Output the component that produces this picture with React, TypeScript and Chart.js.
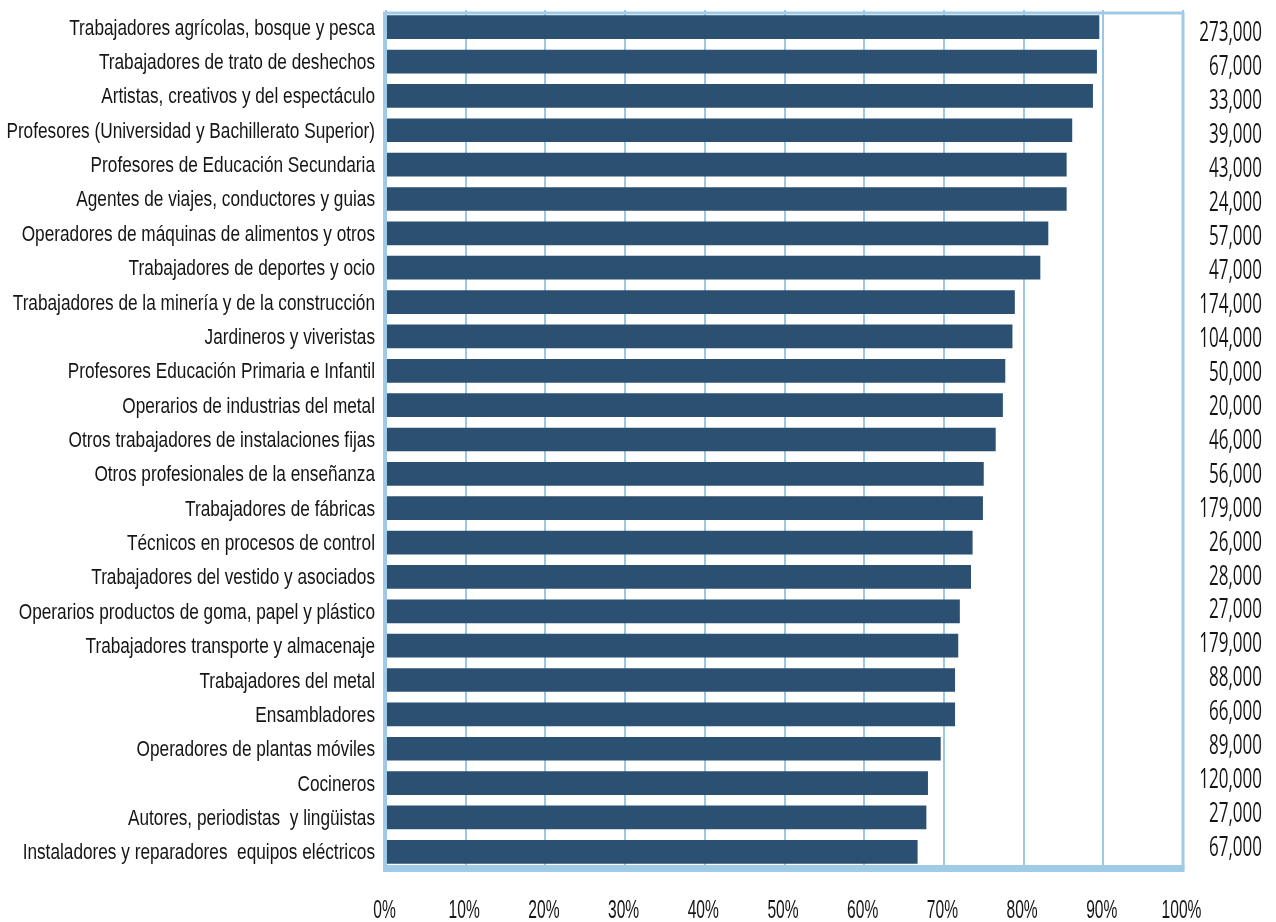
import React, { useEffect, useRef } from "react";
import { Chart, registerables } from "chart.js";

Chart.register(...registerables);

const categories: string[] = [
  "Trabajadores agrícolas, bosque y pesca",
  "Trabajadores de trato de deshechos",
  "Artistas, creativos y del espectáculo",
  "Profesores (Universidad y Bachillerato Superior)",
  "Profesores de Educación Secundaria",
  "Agentes de viajes, conductores y guias",
  "Operadores de máquinas de alimentos y otros",
  "Trabajadores de deportes y ocio",
  "Trabajadores de la minería y de la construcción",
  "Jardineros y viveristas",
  "Profesores Educación Primaria e Infantil",
  "Operarios de industrias del metal",
  "Otros trabajadores de instalaciones fijas",
  "Otros profesionales de la enseñanza",
  "Trabajadores de fábricas",
  "Técnicos en procesos de control",
  "Trabajadores del vestido y asociados",
  "Operarios productos de goma, papel y plástico",
  "Trabajadores transporte y almacenaje",
  "Trabajadores del metal",
  "Ensambladores",
  "Operadores de plantas móviles",
  "Cocineros",
  "Autores, periodistas  y lingüistas",
  "Instaladores y reparadores  equipos eléctricos",
];

const percentages: number[] = [
  89.5, 89.2, 88.7, 86.1, 85.4, 85.4, 83.1, 82.1, 78.9, 78.6, 77.7, 77.4, 76.5,
  75.0, 74.9, 73.6, 73.4, 72.0, 71.8, 71.4, 71.4, 69.6, 68.0, 67.8, 66.7,
];

const workers: string[] = [
  "273,000", "67,000", "33,000", "39,000", "43,000", "24,000", "57,000",
  "47,000", "174,000", "104,000", "50,000", "20,000", "46,000", "56,000",
  "179,000", "26,000", "28,000", "27,000", "179,000", "88,000", "66,000",
  "89,000", "120,000", "27,000", "67,000",
];

const xTicks: number[] = [0, 10, 20, 30, 40, 50, 60, 70, 80, 90, 100];

const BAR = "#2b5072";
const FRAME = "#9fcbe8";
const GRID = "#9cc7e2";
const TEXT = "#151515";
const SANS = "'Liberation Sans', Arial, sans-serif";
const NUMFONT = "'Open Sans', 'Noto Sans', sans-serif";

function drawSquished(ctx: any, text: string, x: number, y: number, sx: number, align: string) {
  ctx.save();
  ctx.translate(x, y);
  ctx.scale(sx, 1);
  ctx.textAlign = align;
  ctx.fillText(text, 0, 0);
  ctx.restore();
}

const framePlugin = {
  id: "frameAndText",
  afterDatasetsDraw(chart: any) {
    const { ctx, chartArea: a } = chart;
    ctx.save();
    ctx.strokeStyle = FRAME;
    ctx.lineWidth = 3;
    ctx.beginPath();
    ctx.moveTo(a.left - 1.5, 13);
    ctx.lineTo(a.right, 13);
    ctx.moveTo(a.right, 11.5);
    ctx.lineTo(a.right, a.bottom);
    ctx.moveTo(a.left - 1.5, 11.5);
    ctx.lineTo(a.left - 1.5, a.bottom);
    ctx.stroke();
    ctx.fillStyle = FRAME;
    ctx.fillRect(a.left - 3, a.bottom - 4, a.right - a.left + 4.5, 7);
    ctx.restore();
  },
  afterDraw(chart: any) {
    const { ctx, chartArea: a } = chart;
    const ys = chart.scales.y;
    const xs = chart.scales.x;
    ctx.save();
    ctx.fillStyle = TEXT;
    ctx.textBaseline = "alphabetic";
    ctx.font = `22px ${SANS}`;
    categories.forEach((label, i) => {
      const y = ys.getPixelForValue(i);
      drawSquished(ctx, label, a.left - 11, y + 7.5, 0.783, "right");
    });
    ctx.font = `27px ${NUMFONT}`;
    workers.forEach((w, i) => {
      const y = ys.getPixelForValue(i) * 0.988 + 4.5;
      drawSquished(ctx, w, 1262, y + 10, 0.63, "right");
    });
    ctx.font = `26px ${SANS}`;
    xTicks.forEach((v) => {
      const x = xs.getPixelForValue(v);
      drawSquished(ctx, `${v}%`, x - 1.5, 918, 0.6, "center");
    });
    ctx.restore();
  },
};

export default function App() {
  const ref = useRef<HTMLCanvasElement | null>(null);
  useEffect(() => {
    if (!ref.current) return;
    const chart = new Chart(ref.current, {
      type: "bar",
      data: {
        labels: categories,
        datasets: [
          {
            data: percentages,
            backgroundColor: BAR,
            borderWidth: 0,
            barPercentage: 0.69,
            categoryPercentage: 1,
          },
        ],
      },
      plugins: [framePlugin],
      options: {
        indexAxis: "y",
        animation: false,
        responsive: true,
        maintainAspectRatio: false,
        layout: { padding: { top: 10, left: 0, right: 0, bottom: 0 } },
        plugins: { legend: { display: false }, tooltip: { enabled: false } },
        scales: {
          x: {
            min: 0,
            max: 100,
            afterBuildTicks: (s: any) => {
              s.ticks = xTicks.map((v) => ({ value: v }));
            },
            afterFit: (s: any) => {
              s.height = 53;
            },
            grid: { color: GRID, lineWidth: 2, drawTicks: false },
            border: { display: false },
            ticks: { display: false },
          },
          y: {
            type: "category",
            position: "left",
            afterFit: (s: any) => {
              s.width = 386;
            },
            grid: { display: false, drawTicks: false },
            border: { display: false },
            ticks: { display: false, autoSkip: false },
          },
          yR: {
            type: "category",
            position: "right",
            labels: workers,
            afterFit: (s: any) => {
              s.width = 93;
            },
            grid: { display: false, drawTicks: false },
            border: { display: false },
            ticks: { display: false, autoSkip: false },
          },
        },
      },
    } as any);
    return () => chart.destroy();
  }, []);
  return (
    <div style={{ position: "fixed", left: 0, top: 0, width: 1276, height: 922, background: "#fff" }}>
      <canvas ref={ref} />
    </div>
  );
}
